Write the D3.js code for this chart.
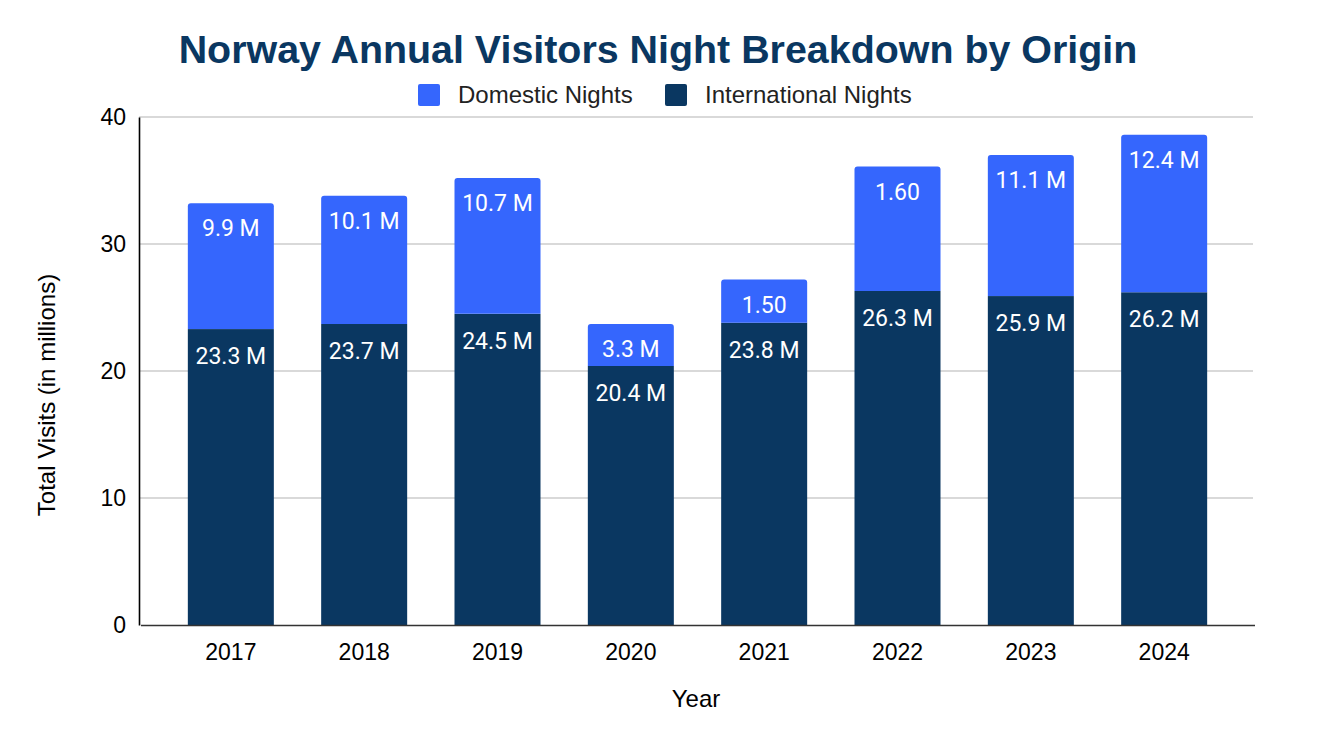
<!DOCTYPE html>
<html>
<head>
<meta charset="utf-8">
<script src="https://cdn.jsdelivr.net/npm/d3@7"></script>
<style>
  body { margin: 0; background: #fff; }
</style>
</head>
<body>
<div id="wrapper"></div>
<script>
// data
const years = ["2017", "2018", "2019", "2020", "2021", "2022", "2023", "2024"];
const internationalNights = [23.3, 23.7, 24.5, 20.4, 23.8, 26.3, 25.9, 26.2];
const domesticNights = [9.9, 10.1, 10.7, 3.3, 3.4, 9.8, 11.1, 12.4];
const internationalLabels = ["23.3 M", "23.7 M", "24.5 M", "20.4 M", "23.8 M", "26.3 M", "25.9 M", "26.2 M"];
const domesticLabels = ["9.9 M", "10.1 M", "10.7 M", "3.3 M", "1.50", "1.60", "11.1 M", "12.4 M"];
const yTicks = [0, 10, 20, 30, 40];
const seriesNames = ["Domestic Nights", "International Nights"];

function drawChart() {
  const dimensions = {
    width: 1320,
    height: 738,
    margin: { top: 117, right: 67, bottom: 113, left: 139 },
  };
  dimensions.boundedWidth = dimensions.width - dimensions.margin.left - dimensions.margin.right;
  dimensions.boundedHeight = dimensions.height - dimensions.margin.top - dimensions.margin.bottom;

  const colors = { domestic: "#3566fd", international: "#0a3761" };
  const sans = "'Liberation Sans', Arial, sans-serif";
  const roboto = "Roboto, 'Liberation Sans', sans-serif";

  const svg = d3.select("#wrapper")
    .append("svg")
    .attr("width", dimensions.width)
    .attr("height", dimensions.height);

  const bounds = svg.append("g")
    .attr("transform", `translate(${dimensions.margin.left},${dimensions.margin.top})`);

  // scales
  const xScale = d3.scaleBand()
    .domain(years)
    .range([1.5, dimensions.boundedWidth + 1.5])
    .padding(0.355);

  const yScale = d3.scaleLinear()
    .domain([0, 40])
    .range([dimensions.boundedHeight, 0]);

  // gridlines
  bounds.append("g")
    .selectAll("line")
    .data(yTicks.filter((d) => d > 0))
    .join("line")
    .attr("x1", 0)
    .attr("x2", dimensions.boundedWidth)
    .attr("y1", (d) => yScale(d))
    .attr("y2", (d) => yScale(d))
    .attr("stroke", "#cccccc")
    .attr("stroke-width", 1.5);

  const rows = years.map((y, i) => ({
    year: y,
    intl: internationalNights[i],
    dom: domesticNights[i],
    intlLabel: internationalLabels[i],
    domLabel: domesticLabels[i],
  }));

  // international (bottom) bars
  bounds.append("g")
    .selectAll("rect")
    .data(rows)
    .join("rect")
    .attr("x", (d) => xScale(d.year))
    .attr("width", xScale.bandwidth())
    .attr("y", (d) => yScale(d.intl))
    .attr("height", (d) => yScale(0) - yScale(d.intl))
    .attr("fill", colors.international);

  // domestic (top) bars with rounded top corners
  const r = 3;
  const topBar = (d) => {
    const x0 = xScale(d.year);
    const x1 = x0 + xScale.bandwidth();
    const yTop = yScale(d.intl + d.dom);
    const yBot = yScale(d.intl);
    return `M${x0},${yBot}V${yTop + r}Q${x0},${yTop} ${x0 + r},${yTop}` +
      `H${x1 - r}Q${x1},${yTop} ${x1},${yTop + r}V${yBot}Z`;
  };
  bounds.append("g")
    .selectAll("path")
    .data(rows)
    .join("path")
    .attr("d", topBar)
    .attr("fill", colors.domestic);

  // value labels
  const labels = bounds.append("g")
    .style("font-family", roboto)
    .style("font-size", "23px")
    .attr("fill", "#ffffff")
    .attr("text-anchor", "middle");

  labels.selectAll("text.intl")
    .data(rows)
    .join("text")
    .attr("class", "intl")
    .attr("x", (d) => xScale(d.year) + xScale.bandwidth() / 2)
    .attr("y", (d) => yScale(d.intl) + 35)
    .text((d) => d.intlLabel);

  labels.selectAll("text.dom")
    .data(rows)
    .join("text")
    .attr("class", "dom")
    .attr("x", (d) => xScale(d.year) + xScale.bandwidth() / 2)
    .attr("y", (d) => yScale(d.intl + d.dom) + 33)
    .text((d) => d.domLabel);

  // axes
  const yAxis = bounds.append("g")
    .call(d3.axisLeft(yScale).tickValues(yTicks).tickSize(0).tickPadding(13));
  yAxis.select(".domain").attr("stroke", "#000").attr("stroke-width", 1.6);
  yAxis.selectAll("text")
    .style("font-family", sans)
    .style("font-size", "23px")
    .attr("fill", "#000");

  const xAxis = bounds.append("g")
    .attr("transform", `translate(0,${dimensions.boundedHeight})`)
    .call(d3.axisBottom(xScale).tickSize(0).tickPadding(19));
  xAxis.select(".domain").attr("stroke", "#333").attr("stroke-width", 1.6);
  xAxis.selectAll("text")
    .style("font-family", sans)
    .style("font-size", "23px")
    .attr("fill", "#000");

  // axis titles
  svg.append("text")
    .attr("transform", `translate(55,${dimensions.margin.top + dimensions.boundedHeight / 2 + 24}) rotate(-90)`)
    .attr("text-anchor", "middle")
    .style("font-family", sans)
    .style("font-size", "24px")
    .attr("fill", "#000")
    .text("Total Visits (in millions)");

  svg.append("text")
    .attr("x", 696)
    .attr("y", 707)
    .attr("text-anchor", "middle")
    .style("font-family", sans)
    .style("font-size", "24px")
    .attr("fill", "#000")
    .text("Year");

  // title
  svg.append("text")
    .attr("x", 658)
    .attr("y", 63)
    .attr("text-anchor", "middle")
    .style("font-family", sans)
    .style("font-size", "39.4px")
    .style("font-weight", "bold")
    .attr("fill", "#0a3761")
    .text("Norway Annual Visitors Night Breakdown by Origin");

  // legend
  const legendItems = [
    { name: seriesNames[0], color: colors.domestic, x: 418 },
    { name: seriesNames[1], color: colors.international, x: 665 },
  ];
  const legend = svg.append("g").selectAll("g")
    .data(legendItems)
    .join("g")
    .attr("transform", (d) => `translate(${d.x},84)`);
  legend.append("rect")
    .attr("width", 22)
    .attr("height", 22)
    .attr("rx", 2)
    .attr("fill", (d) => d.color);
  legend.append("text")
    .attr("x", 40)
    .attr("y", 19)
    .style("font-family", sans)
    .style("font-size", "24px")
    .attr("fill", "#222")
    .text((d) => d.name);
}

drawChart();
</script>
</body>
</html>
